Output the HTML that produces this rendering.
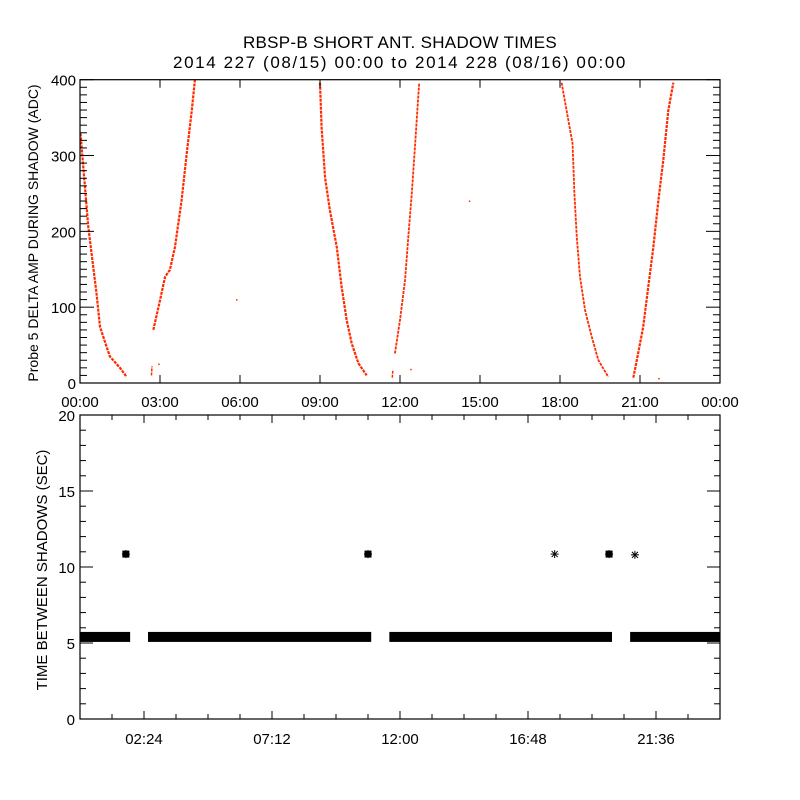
<!DOCTYPE html>
<html><head><meta charset="utf-8"><style>
html,body{margin:0;padding:0;background:#fff;}
svg{display:block;font-family:"Liberation Sans",sans-serif;}
</style></head><body>
<svg id="chart" width="800" height="800" viewBox="0 0 800 800" xmlns="http://www.w3.org/2000/svg">
<rect x="0" y="0" width="800" height="800" fill="#fff"/>
<text x="400" y="48" font-size="17" text-anchor="middle" letter-spacing="0.3">RBSP-B SHORT ANT. SHADOW TIMES</text>
<text x="400" y="68" font-size="17" text-anchor="middle" letter-spacing="1.6">2014 227 (08/15) 00:00 to 2014 228 (08/16) 00:00</text>
<g id="topPanel"></g>
<g id="botPanel"></g>
</svg>
<script>
// ---- Top panel data (hours, ADC) ----
const arc1Hours=[0.02,0.31,0.62,0.75,1.12,1.5,1.75];
const arc1Vals=[329,206,118,74,35,20,8];
const arc2aHours=[2.68,2.70];
const arc2aVals=[10,22];
const arc2Hours=[2.75,3.0,3.19,3.37,3.56,3.81,4.0,4.19,4.31];
const arc2Vals=[70,109,140,149,179,241,302,359,400];
const arc3Hours=[9.0,9.06,9.19,9.37,9.63,9.81,10.0,10.19,10.44,10.75];
const arc3Vals=[396,337,271,228,179,127,83,52,26,10];
const arc4aHours=[11.71,11.73];
const arc4aVals=[7,16];
const arc4Hours=[11.81,12.0,12.19,12.31,12.44,12.56,12.65,12.72];
const arc4Vals=[39,83,136,192,249,311,359,396];
const arc5Hours=[18.06,18.47,18.54,18.63,18.75,18.94,19.19,19.44,19.81];
const arc5Vals=[396,316,250,192,140,96,61,30,8];
const arc6Hours=[20.75,20.88,21.12,21.31,21.5,21.69,21.87,22.06,22.25];
const arc6Vals=[7,30,74,127,179,241,293,359,396];
const strayHours=[5.87,14.6,2.95,12.4,21.7];
const strayVals=[110,240,25,18,6];
const topXTickLabels=["00:00","03:00","06:00","09:00","12:00","15:00","18:00","21:00","00:00"];
const topYTickLabels=["0","100","200","300","400"];
// ---- Bottom panel data (hours, sec) ----
const segStartHours=[0.0,2.55,11.6,20.63];
const segEndHours=[1.88,10.92,19.95,24.0];
const segValue=[5.4,5.4,5.4,5.4];
const outlierHours=[1.72,10.8,17.8,19.84,20.81];
const outlierVals=[10.85,10.85,10.85,10.85,10.8];
const outlierBold=[1,1,0,1,0];
const botXTickLabels=["02:24","07:12","12:00","16:48","21:36"];
const botYTickLabels=["0","5","10","15","20"];

const NS="http://www.w3.org/2000/svg";
function mk(tag,attrs,parent){const e=document.createElementNS(NS,tag);for(const k in attrs)e.setAttribute(k,attrs[k]);parent.appendChild(e);return e;}
const L=80,R=720;
const xS=h=>L+h*(R-L)/24;
const tT=79.7,tB=383;
const yT=v=>tB-v*(tB-tT)/400;
const bT=415,bB=719;
const yB=v=>bB-v*(bB-bT)/20;

const topG=document.getElementById('topPanel');
const botG=document.getElementById('botPanel');
const RED="#ff2a00";

function drawArc(hs,vs,name,w){
  const p=mk('polyline',{points:hs.map((h,i)=>xS(h)+","+yT(vs[i])).join(" "),fill:"none",stroke:RED,"stroke-width":w,"stroke-linejoin":"round","stroke-dasharray":"3 1"},topG);
  
  
}
drawArc(arc1Hours,arc1Vals,'shadow-arc-1',2.2);
drawArc(arc2aHours,arc2aVals,'shadow-arc-2a',1.5);
drawArc(arc2Hours,arc2Vals,'shadow-arc-2',2.2);
drawArc(arc3Hours,arc3Vals,'shadow-arc-3',2.2);
drawArc(arc4aHours,arc4aVals,'shadow-arc-4a',1.5);
drawArc(arc4Hours,arc4Vals,'shadow-arc-4',1.8);
drawArc(arc5Hours,arc5Vals,'shadow-arc-5',1.8);
drawArc(arc6Hours,arc6Vals,'shadow-arc-6',2.2);
strayHours.forEach((h,i)=>{
  const r=mk('rect',{x:xS(h)-0.5,y:yT(strayVals[i])-0.5,width:1.5,height:1.5,fill:RED},topG);
  
  
});

function axes(g,T,B,name){
  const r=mk('rect',{x:L,y:T,width:R-L,height:B-T,fill:"none",stroke:"#000","stroke-width":1.2},g);
  
  
}
axes(topG,tT,tB,'top-plot-frame');
axes(botG,bT,bB,'bottom-plot-frame');

for(let v=0;v<=400;v+=10){
  const len=(v%100===0)?14:7;const y=yT(v);
  mk('line',{x1:L,y1:y,x2:L+len,y2:y,stroke:"#000"},topG);
  mk('line',{x1:R,y1:y,x2:R-len,y2:y,stroke:"#000"},topG);
}
topYTickLabels.forEach((t,i)=>{
  const e=mk('text',{x:L-4,y:yT(i*100)+6,"font-size":15,"text-anchor":"end"},topG);e.textContent=t;
  
  
});
topXTickLabels.forEach((t,i)=>{
  const x=xS(i*3);
  mk('line',{x1:x,y1:tB,x2:x,y2:tB-8,stroke:"#000"},topG);
  mk('line',{x1:x,y1:tT,x2:x,y2:tT+8,stroke:"#000"},topG);
  const e=mk('text',{x:x,y:407,"font-size":15,"text-anchor":"middle"},topG);e.textContent=t;
  
  
});
const yt=mk('text',{x:0,y:0,"font-size":14,"text-anchor":"middle",transform:"translate(38,233) rotate(-90)"},topG);
yt.textContent="Probe 5 DELTA AMP DURING SHADOW (ADC)";



for(let v=0;v<=20;v+=1){
  const len=(v%5===0)?13:6;const y=yB(v);
  mk('line',{x1:L,y1:y,x2:L+len,y2:y,stroke:"#000"},botG);
  mk('line',{x1:R,y1:y,x2:R-len,y2:y,stroke:"#000"},botG);
}
botYTickLabels.forEach((t,i)=>{
  const e=mk('text',{x:L-5,y:yB(i*5)+6,"font-size":15,"text-anchor":"end"},botG);e.textContent=t;
  
  
});
for(let k=1;k<20;k++){
  const x=xS(k*1.2);const len=(k%4===2)?8:5;
  mk('line',{x1:x,y1:bB,x2:x,y2:bB-len,stroke:"#000"},botG);
  mk('line',{x1:x,y1:bT,x2:x,y2:bT+len,stroke:"#000"},botG);
}
botXTickLabels.forEach((t,i)=>{
  const e=mk('text',{x:xS(2.4+i*4.8),y:744,"font-size":15,"text-anchor":"middle"},botG);e.textContent=t;
  
  
});
const yt2=mk('text',{x:0,y:0,"font-size":15,"text-anchor":"middle",transform:"translate(47,570) rotate(-90)"},botG);
yt2.textContent="TIME BETWEEN SHADOWS (SEC)";



segStartHours.forEach((s,i)=>{
  const y=yB(segValue[i]);
  const r=mk('rect',{x:xS(s),y:y-5,width:xS(segEndHours[i])-xS(s),height:10,fill:"#000"},botG);
  
  
});
outlierHours.forEach((h,i)=>{
  const x=xS(h),y=yB(outlierVals[i]);const g=mk('g',{},botG);
  
  
  if(outlierBold[i]){mk('rect',{x:x-3.5,y:y-3.5,width:7,height:7,fill:"#000"},g);}
  mk('line',{x1:x-4,y1:y,x2:x+4,y2:y,stroke:"#000"},g);
  mk('line',{x1:x,y1:y-4,x2:x,y2:y+4,stroke:"#000"},g);
  mk('line',{x1:x-3,y1:y-3,x2:x+3,y2:y+3,stroke:"#000"},g);
  mk('line',{x1:x-3,y1:y+3,x2:x+3,y2:y-3,stroke:"#000"},g);
});
</script>
</body></html>
